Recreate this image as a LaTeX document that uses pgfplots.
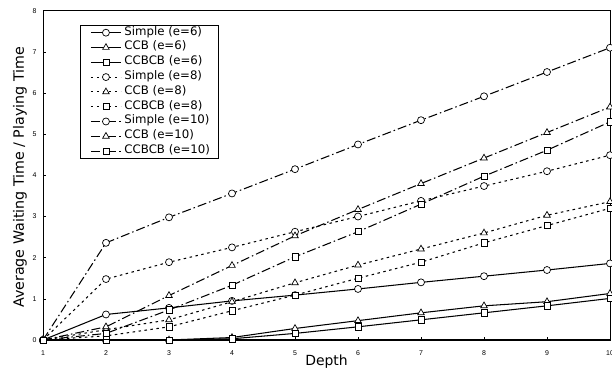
\documentclass[border=0pt]{standalone}
\usepackage{fontspec}
\setmainfont{DejaVu Sans}
\newfontfamily\tickfont{Liberation Sans}
\usepackage{pgfplots}
\pgfplotsset{compat=1.18}
\pgfplotsset{
  e6/.style={solid},
  e8/.style={dash pattern=on 2.5bp off 3.5bp},
  e10/.style={dash pattern=on 9bp off 3bp on 1.5bp off 3bp},
  mc/.style={mark=*},
  mt/.style={mark=triangle*, mark size=3.8bp},
  ms/.style={mark=square*, mark size=3.1bp},
}
\begin{document}
\begin{tikzpicture}
\begin{axis}[
  name=ax,
  width=567bp, height=329.3bp, scale only axis,
  xmin=1, xmax=10, ymin=0, ymax=8,
  xtick={1,...,10}, ytick={0,...,8},
  tick align=inside, xtick pos=left, ytick pos=left,
  major tick length=3bp,
  tick style={black, line width=0.6bp},
  axis line style={black, line width=0.8bp},
  ticklabel style={font=\fontsize{7}{8}\selectfont\tickfont},
  xticklabel style={yshift=-7bp},
  yticklabel style={xshift=-3bp},
  /pgf/number format/assume math mode=true,
  every axis plot/.append style={black, line width=1.05bp, mark size=3.5bp,
    mark options={solid, fill=white, line width=0.7bp}},
  legend image code/.code={\path (0bp,0bp); \draw[mark repeat=2, mark phase=2, #1] plot coordinates {(3bp,0bp) (18bp,0bp) (33bp,0bp)};},
  legend cell align=left,
  legend style={at={(axis description cs:0.0653,0.9566)}, anchor=north west,
    draw=black, line width=0.8bp, inner xsep=7bp, inner ysep=1.5bp,
    font=\fontsize{11.8}{13}\selectfont, row sep=3.2bp, column sep=2bp,
    nodes={inner sep=1bp, text height=7.2bp, text depth=2.4bp}},
]
\addplot[e6, mc] coordinates {(1,0) (2,0.62) (3,0.78) (4,0.95) (5,1.09) (6,1.24) (7,1.40) (8,1.55) (9,1.70) (10,1.86)};
\addlegendentry{Simple (e=6)}
\addplot[e6, mt] coordinates {(1,0) (2,0) (3,0) (4,0.06) (5,0.28) (6,0.47) (7,0.66) (8,0.83) (9,0.93) (10,1.13)};
\addlegendentry{CCB (e=6)}
\addplot[e6, ms] coordinates {(1,0) (2,0) (3,0) (4,0.03) (5,0.16) (6,0.32) (7,0.49) (8,0.66) (9,0.83) (10,1.01)};
\addlegendentry{CCBCB (e=6)}
\addplot[e8, mc] coordinates {(1,0) (2,1.48) (3,1.89) (4,2.25) (5,2.63) (6,3.00) (7,3.38) (8,3.74) (9,4.10) (10,4.49)};
\addlegendentry{Simple (e=8)}
\addplot[e8, mt] coordinates {(1,0) (2,0.25) (3,0.49) (4,0.93) (5,1.39) (6,1.82) (7,2.21) (8,2.60) (9,3.03) (10,3.36)};
\addlegendentry{CCB (e=8)}
\addplot[e8, ms] coordinates {(1,0) (2,0.10) (3,0.32) (4,0.71) (5,1.09) (6,1.50) (7,1.89) (8,2.36) (9,2.78) (10,3.20)};
\addlegendentry{CCBCB (e=8)}
\addplot[e10, mc] coordinates {(1,0) (2,2.36) (3,2.98) (4,3.56) (5,4.15) (6,4.75) (7,5.34) (8,5.92) (9,6.51) (10,7.10)};
\addlegendentry{Simple (e=10)}
\addplot[e10, mt] coordinates {(1,0) (2,0.32) (3,1.08) (4,1.81) (5,2.53) (6,3.17) (7,3.80) (8,4.42) (9,5.04) (10,5.66)};
\addlegendentry{CCB (e=10)}
\addplot[e10, ms] coordinates {(1,0) (2,0.16) (3,0.73) (4,1.33) (5,2.02) (6,2.63) (7,3.30) (8,3.98) (9,4.61) (10,5.30)};
\addlegendentry{CCBCB (e=10)}
\draw[line width=1.8bp] (rel axis cs:0,1) -- (rel axis cs:0,0) -- (rel axis cs:1,0);
\end{axis}
\node[font=\fontsize{14}{16}\selectfont] at ([yshift=-22bp]ax.south) {Depth};
\node[rotate=90, font=\fontsize{14.3}{17}\selectfont] at ([xshift=-23bp,yshift=-2bp]ax.west) {Average Waiting Time / Playing Time};
\pgfresetboundingbox
\path[use as bounding box] ([shift={(-43bp,-31bp)}]ax.south west) rectangle ([shift={(2bp,10.7bp)}]ax.north east);
\end{tikzpicture}
\end{document}
